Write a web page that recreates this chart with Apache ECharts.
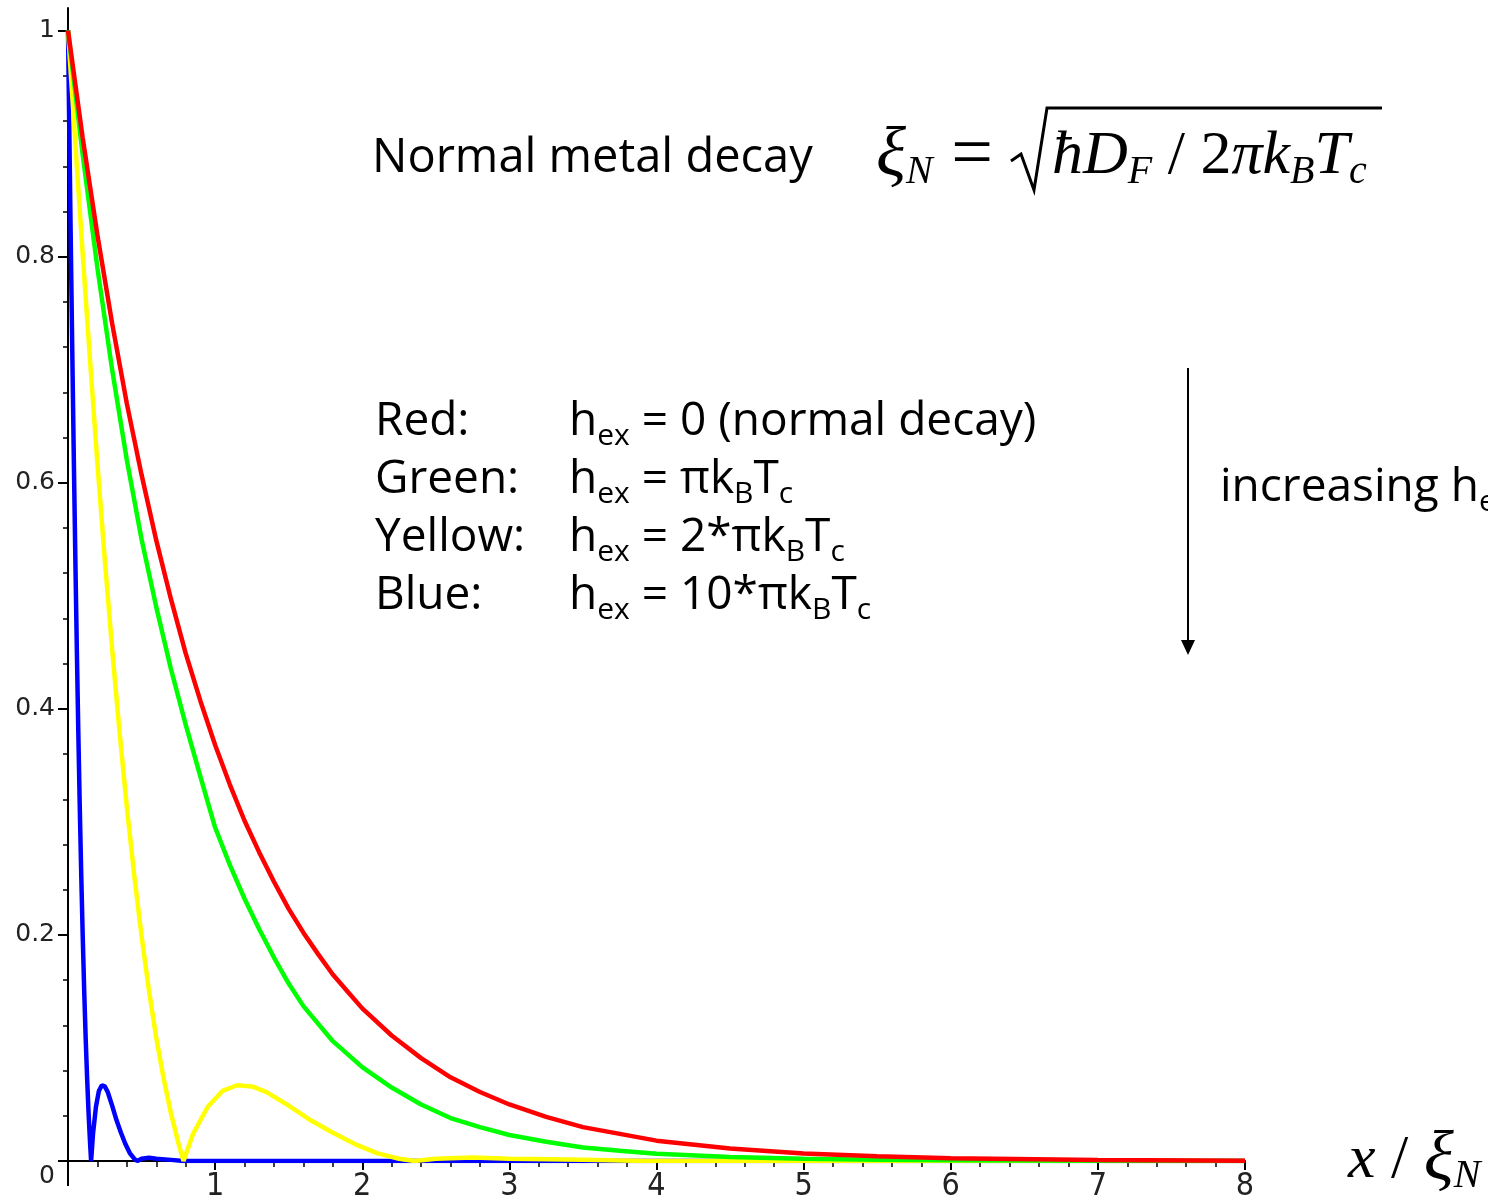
<!DOCTYPE html>
<html>
<head>
<meta charset="utf-8">
<title>Normal metal decay</title>
<script src="https://cdn.jsdelivr.net/npm/echarts@6.0.0/dist/echarts.min.js"></script>
<style>
  html, body { margin: 0; padding: 0; background: #fff; }
  #main { width: 1488px; height: 1199px; }
</style>
</head>
<body>
<div id="main"></div>
<script>
// values (x in units of xi_N)
var redX = [0, 0.1, 0.2, 0.3, 0.4, 0.5, 0.6, 0.7, 0.8, 0.9, 1.0, 1.1, 1.2, 1.3, 1.4, 1.5, 1.6, 1.7, 1.8, 1.9, 2.0, 2.2, 2.4, 2.6, 2.8, 3.0, 3.25, 3.5, 3.75, 4, 4.5, 5, 5.5, 6, 7, 8];
var redY = [1, 0.905, 0.819, 0.741, 0.670, 0.607, 0.549, 0.497, 0.449, 0.407, 0.368, 0.333, 0.301, 0.273, 0.247, 0.223, 0.202, 0.183, 0.165, 0.150, 0.135, 0.111, 0.091, 0.074, 0.061, 0.050, 0.039, 0.030, 0.024, 0.018, 0.011, 0.0067, 0.0041, 0.0025, 0.0009, 0.0003];

var greenX = [0, 0.1, 0.2, 0.3, 0.4, 0.5, 0.6, 0.7, 0.8, 0.9, 1.0, 1.1, 1.2, 1.3, 1.4, 1.5, 1.6, 1.8, 2.0, 2.2, 2.4, 2.6, 2.8, 3.0, 3.25, 3.5, 3.75, 4, 4.5, 5, 5.5, 6, 7, 8];
var greenY = [1, 0.89, 0.79, 0.70, 0.62, 0.55, 0.49, 0.435, 0.386, 0.340, 0.295, 0.262, 0.232, 0.205, 0.180, 0.157, 0.137, 0.106, 0.083, 0.065, 0.050, 0.038, 0.030, 0.023, 0.017, 0.012, 0.009, 0.0065, 0.0035, 0.002, 0.001, 0.0006, 0.0002, 0.0001];

var yellowX = [0, 0.05, 0.1, 0.15, 0.2, 0.25, 0.3, 0.35, 0.4, 0.45, 0.5, 0.55, 0.6, 0.65, 0.7, 0.75, 0.785, 0.85, 0.95, 1.05, 1.15, 1.25, 1.35, 1.5, 1.65, 1.8, 1.95, 2.1, 2.25, 2.356, 2.5, 2.75, 3.0, 3.5, 3.93, 4.8, 8];
var yellowY = [1, 0.900, 0.802, 0.708, 0.617, 0.532, 0.453, 0.380, 0.313, 0.253, 0.199, 0.151, 0.109, 0.073, 0.042, 0.016, 0, 0.024, 0.048, 0.062, 0.067, 0.066, 0.061, 0.049, 0.036, 0.025, 0.015, 0.007, 0.002, 0, 0.002, 0.003, 0.002, 0.001, 0, 0, 0];

var blueX = [0, 0.01, 0.02, 0.03, 0.04, 0.05, 0.06, 0.07, 0.08, 0.09, 0.10, 0.11, 0.12, 0.13, 0.14, 0.15, 0.157, 0.17, 0.19, 0.21, 0.23, 0.25, 0.27, 0.30, 0.33, 0.36, 0.39, 0.42, 0.45, 0.471, 0.50, 0.55, 0.60, 0.70, 0.785, 1.0, 3.1, 8];
var blueY = [1, 0.900, 0.802, 0.708, 0.617, 0.532, 0.453, 0.380, 0.313, 0.253, 0.199, 0.151, 0.109, 0.073, 0.042, 0.016, 0, 0.024, 0.048, 0.062, 0.067, 0.066, 0.061, 0.049, 0.036, 0.025, 0.015, 0.007, 0.002, 0, 0.002, 0.003, 0.002, 0.001, 0, 0, 0, 0];

// axis ticks
var yMajor = [0, 0.2, 0.4, 0.6, 0.8, 1];
var yMinor = [0.04, 0.08, 0.12, 0.16, 0.24, 0.28, 0.32, 0.36, 0.44, 0.48, 0.52, 0.56, 0.64, 0.68, 0.72, 0.76, 0.84, 0.88, 0.92, 0.96];

var legendLines = [
  '{lab|Red:}{m|h}{s|ex}{m| = 0 (normal decay)}',
  '{lab|Green:}{m|h}{s|ex}{m| = πk}{s|B}{m|T}{s|c}',
  '{lab|Yellow:}{m|h}{s|ex}{m| = 2*πk}{s|B}{m|T}{s|c}',
  '{lab|Blue:}{m|h}{s|ex}{m| = 10*πk}{s|B}{m|T}{s|c}'
];

function pairs(xs, ys) {
  return xs.map(function (x, i) { return [x, ys[i]]; });
}

var handFont = "'Comic Sans MS', 'Open Sans', sans-serif";
var mathFont = "'Liberation Serif', 'Times New Roman', serif";
var tickFont = "'Liberation Sans Narrow', 'DejaVu Sans Condensed', 'Liberation Sans', sans-serif";
var yTickFont = "'DejaVu Sans', sans-serif";

var handRich = {
  lab: { width: 194, fontSize: 46, fontFamily: handFont, lineHeight: 58, color: '#000' },
  m: { fontSize: 46, fontFamily: handFont, lineHeight: 58, color: '#000' },
  s: { fontSize: 30, fontFamily: handFont, lineHeight: 25, verticalAlign: 'bottom', color: '#000' }
};
var mathRich = {
  i: { fontSize: 62, fontFamily: mathFont, fontStyle: 'italic', lineHeight: 70, color: '#000' },
  big: { fontSize: 70, fontFamily: mathFont, fontStyle: 'italic', lineHeight: 70, color: '#000' },
  r: { fontSize: 62, fontFamily: mathFont, lineHeight: 70, color: '#000' },
  eq: { fontSize: 74, fontFamily: mathFont, lineHeight: 70, color: '#000' },
  sub: { fontSize: 40, fontFamily: mathFont, fontStyle: 'italic', lineHeight: 32, verticalAlign: 'bottom', color: '#000' }
};

var chart = echarts.init(document.getElementById('main'));

var option = {
  animation: false,
  backgroundColor: '#fff',
  grid: { left: 68, right: 243, top: 8, bottom: 38, outerBoundsMode: 'none' },
  xAxis: {
    type: 'value',
    min: 0,
    max: 8,
    interval: 1,
    axisLine: { onZero: false, lineStyle: { color: '#000', width: 2 } },
    axisTick: { length: 9, lineStyle: { color: '#000', width: 2 } },
    minorTick: { show: true, splitNumber: 5, length: 6, lineStyle: { color: '#000', width: 1.5 } },
    axisLabel: { showMinLabel: false, margin: 10, fontFamily: tickFont, fontSize: 32, color: '#222' },
    splitLine: { show: false },
    name: '{i|x }{r|/ }{big|ξ}{sub|N}',
    nameLocation: 'end',
    nameGap: 103,
    nameTextStyle: { rich: mathRich }
  },
  yAxis: [{
    type: 'value',
    min: 0,
    max: 1.02,
    position: 'left',
    axisLine: { show: true, onZero: false, lineStyle: { color: '#000', width: 2 } },
    axisTick: { show: true, length: 10, customValues: yMajor, lineStyle: { color: '#000', width: 2 } },
    axisLabel: {
      customValues: yMajor,
      margin: 13,
      fontFamily: yTickFont,
      fontSize: 25,
      color: '#222',
      formatter: function (v) { return v === 0 ? '{z|0}' : '{n|' + v + '}'; },
      rich: {
        n: { fontFamily: yTickFont, fontSize: 25, color: '#222' },
        z: { fontFamily: yTickFont, fontSize: 25, color: '#222', padding: [30, 0, 0, 0] }
      }
    },
    splitLine: { show: false }
  }, {
    type: 'value',
    min: 0,
    max: 1.02,
    position: 'left',
    axisLine: { show: false, onZero: false },
    axisTick: { show: true, length: 5, customValues: yMinor, lineStyle: { color: '#000', width: 1.5 } },
    axisLabel: { show: false },
    splitLine: { show: false }
  }],
  series: [
    { name: 'Blue', type: 'line', z: 2, showSymbol: false, data: pairs(blueX, blueY), lineStyle: { color: '#0000ff', width: 4.5 }, itemStyle: { color: '#0000ff' } },
    { name: 'Yellow', type: 'line', z: 3, showSymbol: false, data: pairs(yellowX, yellowY), lineStyle: { color: '#ffff00', width: 4.5 }, itemStyle: { color: '#ffff00' } },
    { name: 'Green', type: 'line', z: 4, showSymbol: false, data: pairs(greenX, greenY), lineStyle: { color: '#00ff00', width: 4.5 }, itemStyle: { color: '#00ff00' } },
    { name: 'Red', type: 'line', z: 5, showSymbol: false, data: pairs(redX, redY), lineStyle: { color: '#ff0000', width: 4.5 }, itemStyle: { color: '#ff0000' } }
  ],
  graphic: [
    // y axis runs on a little below the x axis, as in the original plot
    { type: 'line', shape: { x1: 68, y1: 1160, x2: 68, y2: 1186 }, style: { stroke: '#000', lineWidth: 2 } },
    // title and formula
    { type: 'text', x: 372, y: 159, style: { text: 'Normal metal decay', fontSize: 47, fontFamily: handFont, fill: '#000', verticalAlign: 'middle' } },
    { type: 'text', x: 876, y: 157, style: { text: '{big|ξ}{sub|N}{eq| =}', rich: mathRich, verticalAlign: 'middle' } },
    { type: 'polyline', shape: { points: [[1011, 161], [1021, 154], [1034, 190], [1047, 108], [1382, 108]] }, style: { stroke: '#000', lineWidth: 3, fill: null } },
    { type: 'text', x: 1052, y: 157, style: { text: '{i|ħD}{sub|F}{r| / 2}{i|πk}{sub|B}{i|T}{sub|c}', rich: mathRich, verticalAlign: 'middle' } },
    // colour key
    { type: 'text', x: 375, y: 393, style: { text: legendLines.join('\n'), rich: handRich, verticalAlign: 'top' } },
    // arrow
    { type: 'line', shape: { x1: 1188, y1: 368, x2: 1188, y2: 642 }, style: { stroke: '#000', lineWidth: 2 } },
    { type: 'polygon', shape: { points: [[1181, 640], [1195, 640], [1188, 655]] }, style: { fill: '#000' } },
    { type: 'text', x: 1220, y: 488, style: { text: '{m|increasing h}{s|ex}', rich: handRich, verticalAlign: 'middle' } }
  ]
};

chart.setOption(option);
</script>
</body>
</html>
